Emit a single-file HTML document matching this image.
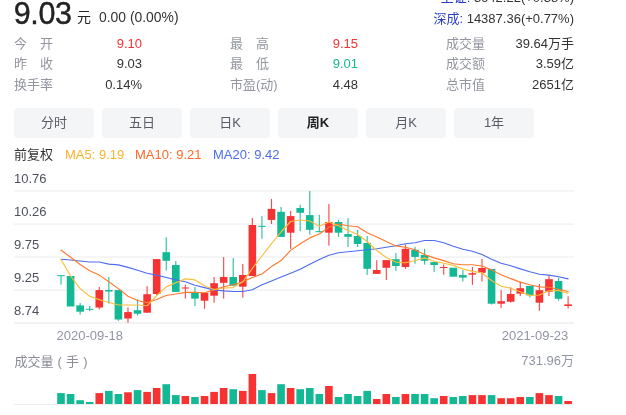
<!DOCTYPE html>
<html lang="zh-CN">
<head>
<meta charset="utf-8">
<title>9.03 元</title>
<style>
html,body{margin:0;padding:0;background:#fff;}
body{width:626px;height:415px;position:relative;overflow:hidden;font-family:"Liberation Sans","Noto Sans CJK SC",sans-serif;color:#333;}
.t{position:absolute;white-space:nowrap;line-height:1;}
.chart{position:absolute;left:0;top:0;}
.price{left:13.8px;top:-2px;font-size:30.5px;color:#222;letter-spacing:-0.4px;-webkit-text-stroke:0.4px #222;}
.yuan{left:77px;top:10px;font-size:14px;color:#222;}
.chg{left:99px;top:10.6px;font-size:13.9px;color:#333;}
.lab{font-size:13px;color:#93969f;left:14px;}
.val{font-size:13px;color:#333;text-align:right;}
.r1{top:36.7px;} .r2{top:57.3px;} .r3{top:78.3px;}
.red{color:#f63232;} .green{color:#12b994;}
.tab{position:absolute;top:108px;width:80px;height:29.5px;background:#f4f5f7;border-radius:4px;text-align:center;line-height:30.5px;font-size:13px;color:#585b66;}
.tab.on{font-weight:bold;color:#222;}
.leg{top:147.6px;font-size:13px;}
.ax{font-size:13px;color:#4e515c;left:14px;}
.dt{font-size:13px;color:#9195a3;}
</style>
</head>
<body>
<svg class="chart" width="626" height="415" viewBox="0 0 626 415">
<rect x="14" y="190.15" width="560" height="1.5" fill="#f2f2f3"/>
<rect x="14" y="223.35" width="560" height="1.5" fill="#f2f2f3"/>
<rect x="14" y="256.25" width="560" height="1.5" fill="#f2f2f3"/>
<rect x="14" y="289.35" width="560" height="1.5" fill="#f2f2f3"/>
<rect x="14" y="322.1" width="560" height="1.8" fill="#f1f1f2"/>
<rect x="14" y="403.9" width="560" height="1.1" fill="#ececee"/>
<rect x="60.42" y="275.2" width="1.15" height="9.5" fill="#12b994" opacity="0.88"/>
<rect x="57.2" y="275.2" width="7.6" height="1" fill="#12b994"/>
<rect x="66.77" y="276" width="7.6" height="30.5" fill="#12b994"/>
<rect x="79.56" y="303" width="1.15" height="11.6" fill="#12b994" opacity="0.88"/>
<rect x="76.34" y="305.4" width="7.6" height="6.3" fill="#12b994"/>
<rect x="89.13" y="306" width="1.15" height="5.2" fill="#12b994" opacity="0.88"/>
<rect x="85.9" y="308.8" width="7.6" height="1" fill="#12b994"/>
<rect x="98.7" y="287" width="1.15" height="22.4" fill="#f63232" opacity="0.88"/>
<rect x="95.47" y="290.1" width="7.6" height="17.4" fill="#f63232"/>
<rect x="108.27" y="277" width="1.15" height="26.6" fill="#12b994" opacity="0.88"/>
<rect x="105.04" y="290" width="7.6" height="1.5" fill="#12b994"/>
<rect x="117.83" y="290.1" width="1.15" height="30.7" fill="#12b994" opacity="0.88"/>
<rect x="114.61" y="290.1" width="7.6" height="29.4" fill="#12b994"/>
<rect x="127.4" y="307.3" width="1.15" height="15.4" fill="#f63232" opacity="0.88"/>
<rect x="124.18" y="312.1" width="7.6" height="6.4" fill="#f63232"/>
<rect x="136.97" y="299.2" width="1.15" height="16.4" fill="#12b994" opacity="0.88"/>
<rect x="133.74" y="310.2" width="7.6" height="3.5" fill="#12b994"/>
<rect x="146.54" y="286.2" width="1.15" height="26.5" fill="#f63232" opacity="0.88"/>
<rect x="143.31" y="294.2" width="7.6" height="18.5" fill="#f63232"/>
<rect x="156.11" y="259.1" width="1.15" height="36.6" fill="#f63232" opacity="0.88"/>
<rect x="152.88" y="259.1" width="7.6" height="34.9" fill="#f63232"/>
<rect x="165.67" y="237.3" width="1.15" height="33.3" fill="#12b994" opacity="0.88"/>
<rect x="162.45" y="252.2" width="7.6" height="8.6" fill="#12b994"/>
<rect x="175.24" y="261" width="1.15" height="30.9" fill="#12b994" opacity="0.88"/>
<rect x="172.02" y="265" width="7.6" height="26.9" fill="#12b994"/>
<rect x="184.81" y="284.7" width="1.15" height="13.9" fill="#f63232" opacity="0.88"/>
<rect x="181.58" y="287.5" width="7.6" height="1" fill="#f63232"/>
<rect x="194.38" y="287" width="1.15" height="19" fill="#12b994" opacity="0.88"/>
<rect x="191.15" y="292.8" width="7.6" height="5.8" fill="#12b994"/>
<rect x="203.94" y="292.8" width="1.15" height="16" fill="#f63232" opacity="0.88"/>
<rect x="200.72" y="292.8" width="7.6" height="7.9" fill="#f63232"/>
<rect x="213.51" y="277" width="1.15" height="25.7" fill="#f63232" opacity="0.88"/>
<rect x="210.29" y="283.2" width="7.6" height="12.5" fill="#f63232"/>
<rect x="223.08" y="257.1" width="1.15" height="41.5" fill="#f63232" opacity="0.88"/>
<rect x="219.86" y="277" width="7.6" height="5.8" fill="#f63232"/>
<rect x="232.65" y="258.1" width="1.15" height="27.6" fill="#12b994" opacity="0.88"/>
<rect x="229.42" y="277" width="7.6" height="8.7" fill="#12b994"/>
<rect x="242.22" y="263.9" width="1.15" height="33.8" fill="#f63232" opacity="0.88"/>
<rect x="238.99" y="275" width="7.6" height="11.7" fill="#f63232"/>
<rect x="251.78" y="218" width="1.15" height="58" fill="#f63232" opacity="0.88"/>
<rect x="248.56" y="225" width="7.6" height="51" fill="#f63232"/>
<rect x="261.35" y="216.1" width="1.15" height="22.7" fill="#12b994" opacity="0.88"/>
<rect x="258.13" y="225.8" width="7.6" height="1" fill="#12b994"/>
<rect x="270.92" y="198.9" width="1.15" height="25.1" fill="#f63232" opacity="0.88"/>
<rect x="267.7" y="208.9" width="7.6" height="11" fill="#f63232"/>
<rect x="280.49" y="207" width="1.15" height="29.9" fill="#12b994" opacity="0.88"/>
<rect x="277.26" y="211.8" width="7.6" height="25.1" fill="#12b994"/>
<rect x="290.06" y="210.9" width="1.15" height="38" fill="#f63232" opacity="0.88"/>
<rect x="286.83" y="216.1" width="7.6" height="16.6" fill="#f63232"/>
<rect x="299.62" y="204.7" width="1.15" height="26.4" fill="#12b994" opacity="0.88"/>
<rect x="296.4" y="208" width="7.6" height="4.8" fill="#12b994"/>
<rect x="309.19" y="191" width="1.15" height="43.6" fill="#12b994" opacity="0.88"/>
<rect x="305.97" y="215.1" width="7.6" height="14.7" fill="#12b994"/>
<rect x="318.76" y="214.7" width="1.15" height="17.5" fill="#12b994" opacity="0.88"/>
<rect x="315.54" y="231.2" width="7.6" height="1" fill="#12b994"/>
<rect x="328.33" y="204.1" width="1.15" height="41.5" fill="#f63232" opacity="0.88"/>
<rect x="325.1" y="222" width="7.6" height="10.7" fill="#f63232"/>
<rect x="337.9" y="219.9" width="1.15" height="17" fill="#12b994" opacity="0.88"/>
<rect x="334.67" y="222" width="7.6" height="10.7" fill="#12b994"/>
<rect x="347.46" y="218.2" width="1.15" height="28.8" fill="#12b994" opacity="0.88"/>
<rect x="344.24" y="234.1" width="7.6" height="2.7" fill="#12b994"/>
<rect x="357.03" y="230" width="1.15" height="17" fill="#12b994" opacity="0.88"/>
<rect x="353.81" y="236" width="7.6" height="8" fill="#12b994"/>
<rect x="366.6" y="236" width="1.15" height="38.9" fill="#12b994" opacity="0.88"/>
<rect x="363.38" y="243" width="7.6" height="25.8" fill="#12b994"/>
<rect x="376.17" y="260.2" width="1.15" height="13.7" fill="#f63232" opacity="0.88"/>
<rect x="372.94" y="270" width="7.6" height="3.9" fill="#f63232"/>
<rect x="385.74" y="260.1" width="1.15" height="19.8" fill="#f63232" opacity="0.88"/>
<rect x="382.51" y="260.1" width="7.6" height="7.7" fill="#f63232"/>
<rect x="395.31" y="253" width="1.15" height="17.8" fill="#12b994" opacity="0.88"/>
<rect x="392.08" y="259.2" width="7.6" height="6.8" fill="#12b994"/>
<rect x="404.87" y="244.4" width="1.15" height="24.5" fill="#f63232" opacity="0.88"/>
<rect x="401.65" y="248.8" width="7.6" height="18.2" fill="#f63232"/>
<rect x="414.44" y="246.9" width="1.15" height="16.8" fill="#12b994" opacity="0.88"/>
<rect x="411.22" y="249.8" width="7.6" height="7.1" fill="#12b994"/>
<rect x="424.01" y="248.8" width="1.15" height="15.8" fill="#12b994" opacity="0.88"/>
<rect x="420.78" y="255" width="7.6" height="5.8" fill="#12b994"/>
<rect x="433.58" y="262.1" width="1.15" height="9.7" fill="#12b994" opacity="0.88"/>
<rect x="430.35" y="262.1" width="7.6" height="2.9" fill="#12b994"/>
<rect x="443.14" y="264.4" width="1.15" height="10.4" fill="#f63232" opacity="0.88"/>
<rect x="439.92" y="267" width="7.6" height="1" fill="#f63232"/>
<rect x="449.49" y="267.7" width="7.6" height="9" fill="#12b994"/>
<rect x="462.28" y="269.9" width="1.15" height="11.6" fill="#12b994" opacity="0.88"/>
<rect x="459.06" y="275.1" width="7.6" height="2.5" fill="#12b994"/>
<rect x="471.85" y="267" width="1.15" height="17.8" fill="#f63232" opacity="0.88"/>
<rect x="468.62" y="273.2" width="7.6" height="1.5" fill="#f63232"/>
<rect x="481.42" y="258.9" width="1.15" height="22.6" fill="#f63232" opacity="0.88"/>
<rect x="478.19" y="268" width="7.6" height="4.8" fill="#f63232"/>
<rect x="490.99" y="268.9" width="1.15" height="35.7" fill="#12b994" opacity="0.88"/>
<rect x="487.76" y="268.9" width="7.6" height="34.8" fill="#12b994"/>
<rect x="500.55" y="290.2" width="1.15" height="17.7" fill="#f63232" opacity="0.88"/>
<rect x="497.33" y="301.2" width="7.6" height="2.5" fill="#f63232"/>
<rect x="510.12" y="287.3" width="1.15" height="15.4" fill="#f63232" opacity="0.88"/>
<rect x="506.9" y="294" width="7.6" height="7.7" fill="#f63232"/>
<rect x="519.69" y="281.5" width="1.15" height="14.5" fill="#f63232" opacity="0.88"/>
<rect x="516.46" y="288.2" width="7.6" height="5.4" fill="#f63232"/>
<rect x="529.26" y="285.9" width="1.15" height="11.6" fill="#12b994" opacity="0.88"/>
<rect x="526.03" y="285.9" width="7.6" height="9.5" fill="#12b994"/>
<rect x="538.82" y="284" width="1.15" height="26.8" fill="#f63232" opacity="0.88"/>
<rect x="535.6" y="290.2" width="7.6" height="12.5" fill="#f63232"/>
<rect x="548.39" y="275.3" width="1.15" height="20.7" fill="#f63232" opacity="0.88"/>
<rect x="545.17" y="279.2" width="7.6" height="12.5" fill="#f63232"/>
<rect x="557.96" y="277.6" width="1.15" height="23.1" fill="#12b994" opacity="0.88"/>
<rect x="554.74" y="281" width="7.6" height="17.8" fill="#12b994"/>
<rect x="567.53" y="296.3" width="1.15" height="12.2" fill="#f63232" opacity="0.88"/>
<rect x="564.3" y="304.4" width="7.6" height="1.6" fill="#f63232"/>
<path d="M61 259.3 L70.57 260 L80.14 261 L89.7 262 L99.27 262 L108.84 264.1 L118.41 264.9 L127.98 267.4 L137.54 270.3 L147.11 273.2 L156.68 275.1 L166.25 277.5 L175.82 279.9 L185.38 281.8 L194.95 285.3 L204.52 287.6 L214.09 289.9 L223.66 290.9 L233.22 291.5 L242.79 291.5 L252.36 289.8 L261.93 284.8 L271.5 281 L281.06 277 L290.63 273.2 L300.2 269.3 L309.77 264.2 L319.34 259.5 L328.9 255.2 L338.47 252.7 L348.04 251.8 L357.61 250.7 L367.18 249.8 L376.74 248.8 L386.31 247.3 L395.88 245.7 L405.45 243.8 L415.02 242.8 L424.58 240.5 L434.15 240.5 L443.72 242.8 L453.29 246.2 L462.86 249.3 L472.42 251.2 L481.99 254.5 L491.56 259.3 L501.13 263.2 L510.7 265.7 L520.26 268.9 L529.83 271.8 L539.4 274.3 L548.97 275.1 L558.54 276.7 L568.1 278.9" fill="none" stroke="#4d6cf2" stroke-width="1.15" stroke-linejoin="round" stroke-linecap="round"/>
<path d="M61 250 L70.57 257.3 L80.14 264.5 L89.7 270.8 L99.27 275.1 L108.84 281.8 L118.41 288.6 L127.98 296.3 L137.54 300.5 L147.11 302.6 L156.68 299.5 L166.25 295.5 L175.82 294 L185.38 292.4 L194.95 292.4 L204.52 292.8 L214.09 289.9 L223.66 286.7 L233.22 284.7 L242.79 281.8 L252.36 277.5 L261.93 274 L271.5 266.6 L281.06 260.6 L290.63 250.4 L300.2 243.7 L309.77 237.9 L319.34 234 L328.9 227.3 L338.47 224 L348.04 225.7 L357.61 226.8 L367.18 232.8 L376.74 237 L386.31 241.5 L395.88 245.9 L405.45 247.3 L415.02 249.8 L424.58 254.6 L434.15 257.9 L443.72 260.6 L453.29 263.7 L462.86 264.7 L472.42 264.7 L481.99 266 L491.56 269.9 L501.13 274.7 L510.7 278.6 L520.26 282.1 L529.83 284.8 L539.4 286.9 L548.97 287.3 L558.54 289.2 L568.1 291.5" fill="none" stroke="#ff7a2e" stroke-width="1.15" stroke-linejoin="round" stroke-linecap="round"/>
<path d="M61 259.5 L70.57 276 L80.14 288.6 L89.7 296.3 L99.27 299.6 L108.84 302.5 L118.41 305 L127.98 305 L137.54 305 L147.11 305.8 L156.68 295.5 L166.25 286.9 L175.82 282.8 L185.38 278.9 L194.95 279.9 L204.52 285.7 L214.09 289.5 L223.66 288 L233.22 287.6 L242.79 281.8 L252.36 268.3 L261.93 256 L271.5 243.7 L281.06 232 L290.63 221.5 L300.2 220 L309.77 221 L319.34 226.3 L328.9 222 L338.47 225.7 L348.04 230.5 L357.61 234.5 L367.18 241.5 L376.74 250.5 L386.31 257.5 L395.88 262.1 L405.45 262.7 L415.02 260.8 L424.58 257.9 L434.15 261.2 L443.72 263.3 L453.29 265.4 L462.86 268.9 L472.42 271.4 L481.99 272.8 L491.56 280.5 L501.13 286.3 L510.7 288.2 L520.26 291.7 L529.83 295.4 L539.4 295 L548.97 290.7 L558.54 290.5 L568.1 293.4" fill="none" stroke="#fcbe3c" stroke-width="1.15" stroke-linejoin="round" stroke-linecap="round"/>
<rect x="57.2" y="393.1" width="7.6" height="10.9" fill="#12b994"/>
<rect x="66.77" y="394" width="7.6" height="10" fill="#12b994"/>
<rect x="76.34" y="400.2" width="7.6" height="3.8" fill="#12b994"/>
<rect x="85.9" y="402" width="7.6" height="2" fill="#12b994"/>
<rect x="95.47" y="393.1" width="7.6" height="10.9" fill="#f63232"/>
<rect x="105.04" y="390.9" width="7.6" height="13.1" fill="#12b994"/>
<rect x="114.61" y="394" width="7.6" height="10" fill="#12b994"/>
<rect x="124.18" y="392.3" width="7.6" height="11.7" fill="#f63232"/>
<rect x="133.74" y="390.1" width="7.6" height="13.9" fill="#12b994"/>
<rect x="143.31" y="391.9" width="7.6" height="12.1" fill="#f63232"/>
<rect x="152.88" y="388" width="7.6" height="16" fill="#f63232"/>
<rect x="162.45" y="384.2" width="7.6" height="19.8" fill="#12b994"/>
<rect x="172.02" y="395.1" width="7.6" height="8.9" fill="#12b994"/>
<rect x="181.58" y="396" width="7.6" height="8" fill="#f63232"/>
<rect x="191.15" y="397" width="7.6" height="7" fill="#12b994"/>
<rect x="200.72" y="396" width="7.6" height="8" fill="#f63232"/>
<rect x="210.29" y="391.9" width="7.6" height="12.1" fill="#f63232"/>
<rect x="219.86" y="388" width="7.6" height="16" fill="#f63232"/>
<rect x="229.42" y="389.2" width="7.6" height="14.8" fill="#12b994"/>
<rect x="238.99" y="390.9" width="7.6" height="13.1" fill="#f63232"/>
<rect x="248.56" y="374" width="7.6" height="30" fill="#f63232"/>
<rect x="258.13" y="390.1" width="7.6" height="13.9" fill="#12b994"/>
<rect x="267.7" y="393.1" width="7.6" height="10.9" fill="#f63232"/>
<rect x="277.26" y="384.2" width="7.6" height="19.8" fill="#12b994"/>
<rect x="286.83" y="388" width="7.6" height="16" fill="#f63232"/>
<rect x="296.4" y="389.2" width="7.6" height="14.8" fill="#12b994"/>
<rect x="305.97" y="388" width="7.6" height="16" fill="#12b994"/>
<rect x="315.54" y="394" width="7.6" height="10" fill="#12b994"/>
<rect x="325.1" y="386" width="7.6" height="18" fill="#f63232"/>
<rect x="334.67" y="397" width="7.6" height="7" fill="#12b994"/>
<rect x="344.24" y="394" width="7.6" height="10" fill="#12b994"/>
<rect x="353.81" y="396" width="7.6" height="8" fill="#12b994"/>
<rect x="363.38" y="390.9" width="7.6" height="13.1" fill="#12b994"/>
<rect x="372.94" y="399" width="7.6" height="5" fill="#f63232"/>
<rect x="382.51" y="394" width="7.6" height="10" fill="#f63232"/>
<rect x="392.08" y="397" width="7.6" height="7" fill="#12b994"/>
<rect x="401.65" y="394" width="7.6" height="10" fill="#f63232"/>
<rect x="411.22" y="394" width="7.6" height="10" fill="#12b994"/>
<rect x="420.78" y="394" width="7.6" height="10" fill="#12b994"/>
<rect x="430.35" y="398.2" width="7.6" height="5.8" fill="#12b994"/>
<rect x="439.92" y="396" width="7.6" height="8" fill="#f63232"/>
<rect x="449.49" y="397" width="7.6" height="7" fill="#12b994"/>
<rect x="459.06" y="396" width="7.6" height="8" fill="#12b994"/>
<rect x="468.62" y="395.1" width="7.6" height="8.9" fill="#f63232"/>
<rect x="478.19" y="395.1" width="7.6" height="8.9" fill="#f63232"/>
<rect x="487.76" y="395.1" width="7.6" height="8.9" fill="#12b994"/>
<rect x="497.33" y="398.2" width="7.6" height="5.8" fill="#f63232"/>
<rect x="506.9" y="398.2" width="7.6" height="5.8" fill="#f63232"/>
<rect x="516.46" y="397" width="7.6" height="7" fill="#f63232"/>
<rect x="526.03" y="397" width="7.6" height="7" fill="#12b994"/>
<rect x="535.6" y="393.1" width="7.6" height="10.9" fill="#f63232"/>
<rect x="545.17" y="395.1" width="7.6" height="8.9" fill="#f63232"/>
<rect x="554.74" y="396" width="7.6" height="8" fill="#12b994"/>
<rect x="564.3" y="401" width="7.6" height="3" fill="#f63232"/>
</svg>
<div class="t price">9.03</div>
<div class="t yuan">元</div>
<div class="t chg">0.00 (0.00%)</div>

<div class="t" style="right:52px;top:-9px;font-size:13px;color:#333;"><span style="color:#2a3fc0">上证:</span> 3642.22(+0.38%)</div>
<div class="t" style="right:52px;top:12px;font-size:13px;color:#333;"><span style="color:#2a3fc0">深成:</span> 14387.36(+0.77%)</div>

<div class="t lab r1" style="width:39px;display:flex;justify-content:space-between;"><span>今</span><span>开</span></div>
<div class="t lab r2" style="width:39px;display:flex;justify-content:space-between;"><span>昨</span><span>收</span></div>
<div class="t lab r3">换手率</div>
<div class="t val r1 red" style="right:484px;">9.10</div>
<div class="t val r2" style="right:484px;">9.03</div>
<div class="t val r3" style="right:484px;">0.14%</div>

<div class="t lab r1" style="left:230px;width:39px;display:flex;justify-content:space-between;"><span>最</span><span>高</span></div>
<div class="t lab r2" style="left:230px;width:39px;display:flex;justify-content:space-between;"><span>最</span><span>低</span></div>
<div class="t lab r3" style="left:230px;">市盈(动)</div>
<div class="t val r1 red" style="right:268px;">9.15</div>
<div class="t val r2 green" style="right:268px;">9.01</div>
<div class="t val r3" style="right:268px;">4.48</div>

<div class="t lab r1" style="left:446px;">成交量</div>
<div class="t lab r2" style="left:446px;">成交额</div>
<div class="t lab r3" style="left:446px;">总市值</div>
<div class="t val r1" style="right:52px;">39.64万手</div>
<div class="t val r2" style="right:52px;">3.59亿</div>
<div class="t val r3" style="right:52px;">2651亿</div>

<div class="tab" style="left:14px;">分时</div>
<div class="tab" style="left:102px;">五日</div>
<div class="tab" style="left:190px;">日K</div>
<div class="tab on" style="left:278px;">周K</div>
<div class="tab" style="left:366px;">月K</div>
<div class="tab" style="left:454px;">1年</div>

<div class="t leg" style="left:14px;color:#333;">前复权</div>
<div class="t leg" style="left:65px;color:#fcb42c;">MA5: 9.19</div>
<div class="t leg" style="left:135px;color:#ff6a2a;">MA10: 9.21</div>
<div class="t leg" style="left:213px;color:#4d6cf2;">MA20: 9.42</div>

<div class="t ax" style="top:171.6px;">10.76</div>
<div class="t ax" style="top:204.6px;">10.26</div>
<div class="t ax" style="top:237.6px;">9.75</div>
<div class="t ax" style="top:270.6px;">9.25</div>
<div class="t ax" style="top:303.6px;">8.74</div>

<div class="t dt" style="left:56.5px;top:329px;">2020-09-18</div>
<div class="t dt" style="right:57.8px;top:329px;">2021-09-23</div>

<div class="t" style="left:14.5px;top:355px;font-size:13px;color:#8a8c96;word-spacing:0.5px;">成交量 ( 手 )</div>
<div class="t" style="right:52px;top:354px;font-size:13px;color:#9195a3;">731.96万</div>
</body>
</html>
